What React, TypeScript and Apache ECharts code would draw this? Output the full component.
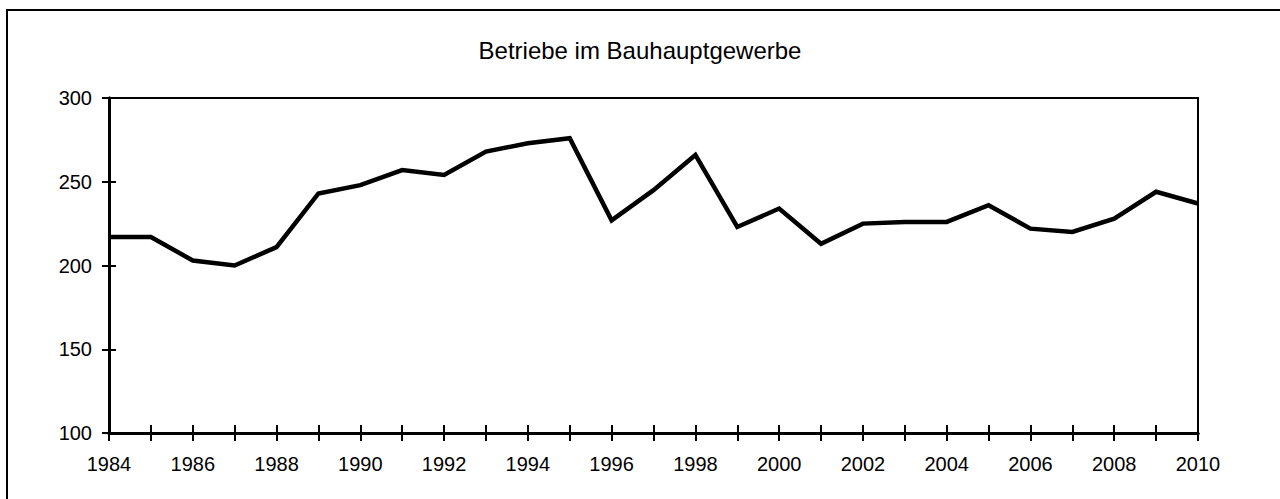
import React, { useEffect, useRef } from "react";
import * as echarts from "echarts";

const years: string[] = [
  "1984", "1985", "1986", "1987", "1988", "1989", "1990", "1991", "1992",
  "1993", "1994", "1995", "1996", "1997", "1998", "1999", "2000", "2001",
  "2002", "2003", "2004", "2005", "2006", "2007", "2008", "2009", "2010",
];
const betriebe: number[] = [
  217, 217, 203, 200, 211, 243, 248, 257, 254,
  268, 273, 276, 227, 245, 266, 223, 234, 213,
  225, 226, 226, 236, 222, 220, 228, 244, 237,
];
const title = "Betriebe im Bauhauptgewerbe";
const yMin = 100;
const yMax = 300;
const yStep = 50;

const FONT = "'Liberation Sans', Arial, Helvetica, sans-serif";

export default function App() {
  const ref = useRef<HTMLDivElement>(null);
  useEffect(() => {
    if (!ref.current) return;
    const chart = echarts.init(ref.current, undefined, { renderer: "svg" });
    const xBase = {
      type: "category" as const,
      data: years,
      position: "bottom" as const,
      boundaryGap: false,
      axisLine: { show: true, lineStyle: { color: "#000", width: 3 } },
      splitLine: { show: false },
    };
    const yBase = {
      type: "value" as const,
      min: yMin,
      max: yMax,
      interval: yStep,
      position: "left" as const,
      axisLine: { show: true, lineStyle: { color: "#000", width: 3 } },
      splitLine: { show: false },
    };
    chart.setOption({
      animation: false,
      backgroundColor: "#fff",
      title: {
        text: title,
        left: "center",
        top: 33,
        textStyle: { fontFamily: FONT, fontSize: 24, fontWeight: "normal", color: "#000" },
      },
      graphic: [
        {
          type: "rect",
          shape: { x: 7, y: 10, width: 1400, height: 700 },
          style: { fill: "none", stroke: "#000", lineWidth: 2 },
          silent: true,
        },
      ],
      grid: {
        left: 109,
        top: 98,
        right: 82,
        bottom: 66,
        show: true,
        borderColor: "#000",
        borderWidth: 2,
        backgroundColor: "transparent",
      },
      xAxis: [
        {
          ...xBase,
          axisTick: { show: true, inside: false, interval: 0, length: 8, lineStyle: { color: "#000", width: 2 } },
          axisLabel: {
            show: true,
            interval: 1,
            margin: 21,
            color: "#000",
            fontFamily: FONT,
            fontSize: 20,
          },
        },
        {
          ...xBase,
          axisTick: { show: true, inside: true, interval: 0, length: 8, lineStyle: { color: "#000", width: 2 } },
          axisLabel: { show: false },
        },
      ],
      yAxis: [
        {
          ...yBase,
          axisTick: { show: true, inside: false, length: 7, lineStyle: { color: "#000", width: 2 } },
          axisLabel: {
            show: true,
            margin: 17,
            color: "#000",
            fontFamily: FONT,
            fontSize: 20,
          },
        },
        {
          ...yBase,
          axisTick: { show: true, inside: true, length: 7, lineStyle: { color: "#000", width: 2 } },
          axisLabel: { show: false },
        },
      ],
      series: [
        {
          type: "line",
          name: title,
          data: betriebe,
          xAxisIndex: 0,
          yAxisIndex: 0,
          showSymbol: false,
          symbol: "none",
          lineStyle: { color: "#000", width: 4.5, join: "miter" },
        },
      ],
    });
    return () => chart.dispose();
  }, []);
  return (
    <div
      ref={ref}
      style={{ position: "absolute", left: 0, top: 0, width: 1280, height: 499 }}
    />
  );
}
